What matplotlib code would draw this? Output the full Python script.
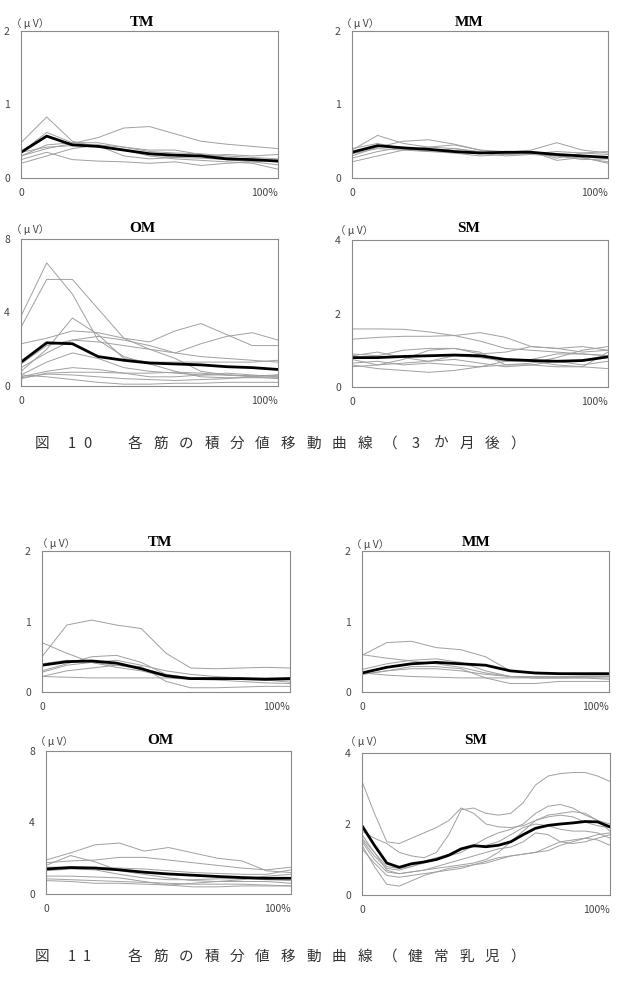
import matplotlib.pyplot as plt

plt.rcParams['font.family'] = ['Noto Sans CJK JP', 'DejaVu Sans']

W, H = 618, 993

pct = [0, 10, 20, 30, 40, 50, 60, 70, 80, 90, 100]
pct5 = [0, 5, 10, 15, 20, 25, 30, 35, 40, 45, 50, 55, 60, 65, 70, 75, 80, 85, 90, 95, 100]

# ---- 図10 (3か月後) ----
tm3_lines = [
    [0.48, 0.83, 0.50, 0.42, 0.38, 0.32, 0.28, 0.27, 0.25, 0.22, 0.18],
    [0.30, 0.40, 0.47, 0.55, 0.68, 0.70, 0.60, 0.50, 0.46, 0.43, 0.40],
    [0.35, 0.62, 0.48, 0.48, 0.42, 0.36, 0.34, 0.33, 0.30, 0.28, 0.26],
    [0.20, 0.30, 0.40, 0.45, 0.42, 0.38, 0.38, 0.32, 0.28, 0.25, 0.22],
    [0.25, 0.35, 0.25, 0.23, 0.22, 0.20, 0.22, 0.17, 0.20, 0.22, 0.25],
    [0.35, 0.42, 0.44, 0.45, 0.38, 0.30, 0.26, 0.24, 0.22, 0.20, 0.12],
    [0.30, 0.45, 0.48, 0.44, 0.30, 0.26, 0.28, 0.30, 0.32, 0.30, 0.32],
]
tm3_mean = [0.35, 0.57, 0.45, 0.43, 0.38, 0.33, 0.31, 0.30, 0.26, 0.25, 0.23]

mm3_lines = [
    [0.38, 0.58, 0.47, 0.42, 0.40, 0.35, 0.35, 0.38, 0.48, 0.38, 0.34],
    [0.30, 0.42, 0.50, 0.52, 0.46, 0.38, 0.33, 0.36, 0.27, 0.34, 0.36],
    [0.22, 0.30, 0.38, 0.42, 0.45, 0.38, 0.36, 0.34, 0.30, 0.27, 0.22],
    [0.40, 0.47, 0.40, 0.36, 0.34, 0.30, 0.32, 0.36, 0.24, 0.28, 0.20],
    [0.33, 0.40, 0.38, 0.36, 0.40, 0.36, 0.32, 0.33, 0.36, 0.34, 0.32],
    [0.27, 0.36, 0.42, 0.38, 0.34, 0.34, 0.30, 0.32, 0.30, 0.25, 0.26],
]
mm3_mean = [0.35, 0.44, 0.41, 0.39, 0.36, 0.34, 0.35, 0.35, 0.32, 0.30, 0.28]

om3_lines = [
    [3.8, 6.7, 5.0, 2.5, 1.6, 1.2, 0.8, 0.5, 0.45, 0.45, 0.45],
    [3.2, 5.8, 5.8, 4.2, 2.6, 2.0, 1.5, 0.8, 0.6, 0.55, 0.6],
    [0.8, 2.0, 3.7, 2.8, 1.5, 1.3, 1.3, 1.3, 1.3, 1.3, 1.4],
    [2.3, 2.6, 3.0, 2.9, 2.6, 2.4, 3.0, 3.4, 2.8, 2.2, 2.2],
    [1.0, 1.8, 2.5, 2.7, 2.5, 2.2, 1.8, 2.3, 2.7, 2.9, 2.5],
    [1.2, 2.2, 2.5, 2.4, 2.2, 2.0, 1.8, 1.6, 1.5, 1.4, 1.3],
    [0.6, 1.3, 1.8, 1.5, 1.0, 0.8, 0.7, 0.6, 0.6, 0.55, 0.55],
    [0.5, 0.8, 1.0, 0.9, 0.7, 0.5, 0.5, 0.6, 0.7, 0.6, 0.5],
    [0.4, 0.7, 0.75, 0.75, 0.7, 0.7, 0.75, 0.7, 0.6, 0.5, 0.4],
    [0.6, 0.5, 0.35, 0.2, 0.1, 0.1, 0.15, 0.15, 0.2, 0.2, 0.2],
    [0.45, 0.65, 0.6, 0.5, 0.4, 0.35, 0.3, 0.35, 0.4, 0.5, 0.6],
]
om3_mean = [1.3, 2.35, 2.3, 1.6, 1.4, 1.25, 1.2, 1.15, 1.05, 1.0, 0.9]

sm3_lines = [
    [1.58, 1.58, 1.57, 1.50, 1.40, 1.25, 1.05, 1.00, 0.95, 0.90, 0.85],
    [1.30, 1.35, 1.38, 1.38, 1.40, 1.48, 1.35, 1.10, 1.05, 0.95, 1.00],
    [0.90, 0.85, 1.00, 1.05, 1.05, 0.90, 0.95, 1.10, 1.05, 1.10, 1.00],
    [0.75, 0.60, 0.75, 1.00, 1.05, 0.95, 0.60, 0.65, 0.80, 1.00, 1.10],
    [0.60, 0.50, 0.45, 0.40, 0.45, 0.55, 0.60, 0.60, 0.55, 0.55, 0.50],
    [0.55, 0.60, 0.65, 0.70, 0.75, 0.65, 0.55, 0.60, 0.70, 0.60, 0.70],
    [0.85, 0.95, 0.80, 0.70, 0.85, 0.80, 0.70, 0.75, 0.90, 0.90, 0.85],
    [0.65, 0.70, 0.60, 0.65, 0.60, 0.55, 0.70, 0.70, 0.60, 0.55, 0.95],
]
sm3_mean = [0.80, 0.80, 0.83, 0.85, 0.87, 0.85, 0.75, 0.72, 0.70, 0.72, 0.82]

# ---- 図11 (健常乳児) ----
tmh_lines = [
    [0.50, 0.95, 1.02, 0.95, 0.90, 0.55, 0.34, 0.33, 0.34, 0.35, 0.34],
    [0.70, 0.55, 0.42, 0.35, 0.30, 0.22, 0.20, 0.20, 0.18, 0.17, 0.17],
    [0.30, 0.40, 0.50, 0.52, 0.42, 0.25, 0.20, 0.20, 0.20, 0.20, 0.20],
    [0.28, 0.38, 0.42, 0.45, 0.38, 0.30, 0.25, 0.22, 0.20, 0.17, 0.14],
    [0.22, 0.30, 0.34, 0.38, 0.36, 0.15, 0.06, 0.06, 0.07, 0.08, 0.08],
    [0.22, 0.21, 0.20, 0.20, 0.20, 0.20, 0.18, 0.17, 0.15, 0.13, 0.12],
    [0.40, 0.45, 0.42, 0.38, 0.33, 0.25, 0.18, 0.18, 0.18, 0.19, 0.20],
]
tmh_mean = [0.38, 0.43, 0.44, 0.41, 0.33, 0.23, 0.19, 0.19, 0.19, 0.18, 0.19]

mmh_lines = [
    [0.52, 0.70, 0.72, 0.63, 0.60, 0.50, 0.30, 0.26, 0.25, 0.24, 0.24],
    [0.53, 0.48, 0.44, 0.40, 0.35, 0.27, 0.22, 0.20, 0.20, 0.20, 0.20],
    [0.32, 0.40, 0.45, 0.47, 0.42, 0.30, 0.22, 0.20, 0.20, 0.20, 0.18],
    [0.25, 0.30, 0.36, 0.36, 0.33, 0.20, 0.12, 0.12, 0.15, 0.15, 0.15],
    [0.25, 0.30, 0.33, 0.33, 0.30, 0.25, 0.22, 0.22, 0.22, 0.22, 0.22],
    [0.27, 0.24, 0.22, 0.21, 0.20, 0.20, 0.20, 0.20, 0.20, 0.21, 0.22],
]
mmh_mean = [0.27, 0.35, 0.40, 0.42, 0.40, 0.38, 0.30, 0.27, 0.26, 0.26, 0.26]

omh_lines = [
    [1.9, 2.3, 2.75, 2.85, 2.4, 2.6, 2.3, 2.0, 1.85, 1.3, 1.2],
    [1.75, 1.85, 1.9, 2.05, 2.05, 1.9, 1.75, 1.6, 1.45, 1.35, 1.5],
    [1.6, 2.15, 1.8, 1.3, 1.1, 0.9, 0.75, 0.7, 0.7, 0.7, 0.6],
    [1.5, 1.5, 1.5, 1.45, 1.4, 1.3, 1.2, 1.15, 1.1, 1.1, 1.35],
    [1.0, 1.0, 0.95, 0.9, 0.7, 0.5, 0.4, 0.4, 0.45, 0.45, 0.45],
    [0.85, 0.8, 0.75, 0.7, 0.65, 0.6, 0.55, 0.55, 0.55, 0.5, 0.45],
    [0.75, 0.7, 0.6, 0.6, 0.55, 0.5, 0.6, 0.7, 0.8, 1.0, 1.1],
    [1.3, 1.4, 1.35, 1.1, 0.9, 0.8, 0.8, 0.85, 0.85, 0.8, 0.75],
]
omh_mean = [1.4, 1.48, 1.45, 1.35, 1.22, 1.12, 1.05, 0.98, 0.92, 0.88, 0.88]

smh_lines = [
    [3.2, 2.3, 1.5, 1.45, 1.6, 1.75, 1.9, 2.1, 2.45, 2.3, 2.0, 1.92, 1.9, 1.95, 2.1, 2.2, 2.25, 2.2, 2.05, 1.95, 1.9],
    [1.8, 1.6, 1.45, 1.2, 1.1, 1.05, 1.2, 1.7, 2.4, 2.45, 2.3, 2.25, 2.3, 2.6, 3.1, 3.35, 3.42, 3.45, 3.45, 3.35, 3.2],
    [1.6, 1.2, 0.8, 0.75, 0.8, 0.9, 1.0, 1.1, 1.2, 1.4, 1.6, 1.75, 1.85, 2.0, 2.3, 2.5, 2.55, 2.45, 2.25, 2.1, 2.0],
    [1.5, 1.0, 0.65, 0.6, 0.65, 0.7, 0.75, 0.8, 0.85, 0.9, 1.0, 1.2, 1.5, 1.8, 2.1, 2.25, 2.3, 2.35, 2.3, 2.1, 1.8],
    [1.4, 0.8, 0.3, 0.25, 0.4, 0.55, 0.65, 0.75, 0.8, 0.85, 0.9, 1.0, 1.1, 1.15, 1.2, 1.25, 1.4, 1.5, 1.6, 1.7, 1.75],
    [1.3, 0.9, 0.55, 0.5, 0.55, 0.6, 0.65, 0.7, 0.75, 0.85, 0.95, 1.05, 1.1, 1.15, 1.2, 1.35, 1.5, 1.55, 1.6, 1.55, 1.4],
    [1.7, 1.2, 0.7, 0.6, 0.65, 0.7, 0.8, 0.9, 1.0, 1.1, 1.2, 1.3, 1.35, 1.5, 1.75, 1.7, 1.5, 1.45, 1.5, 1.6, 1.7],
    [1.55, 1.1, 0.75, 0.7, 0.8, 0.95, 1.05, 1.15, 1.3, 1.35, 1.4, 1.5, 1.7, 1.9, 2.0, 1.95, 1.85, 1.8, 1.8, 1.75, 1.6],
]
smh_mean = [1.95, 1.4, 0.9, 0.78, 0.88, 0.93, 1.0, 1.12, 1.3, 1.39, 1.36, 1.4, 1.5, 1.7, 1.88, 1.96, 2.0, 2.03, 2.07, 2.06, 1.92]

caption1 = ['図', '1', '0', '各', '筋', 'の', '積', '分', '値', '移', '動', '曲', '線', '（', '3', 'か', '月', '後', '）']
caption2 = ['図', '1', '1', '各', '筋', 'の', '積', '分', '値', '移', '動', '曲', '線', '（', '健', '常', '乳', '児', '）']


def box(l, t, r, b):
    return [l / W, 1 - b / H, (r - l) / W, (b - t) / H]


def px(x, y):
    return x / W, 1 - y / H


fig = plt.figure(figsize=(W / 100, H / 100), dpi=100)

# rect, title, ymax, yticks, x, lines, mean, title pos, unit pos
panels = [
    (box(21, 31, 278, 178), 'TM', 2, [0, 1, 2], pct, tm3_lines, tm3_mean, (142, 22), (11, 24)),
    (box(352, 31, 608, 178), 'MM', 2, [0, 1, 2], pct, mm3_lines, mm3_mean, (469, 22), (341, 24)),
    (box(21, 239, 278, 386), 'OM', 8, [0, 4, 8], pct, om3_lines, om3_mean, (142, 228), (11, 230)),
    (box(352, 240, 608, 387), 'SM', 4, [0, 2, 4], pct, sm3_lines, sm3_mean, (469, 228), (335, 231)),
    (box(42, 551, 290, 692), 'TM', 2, [0, 1, 2], pct, tmh_lines, tmh_mean, (160, 542), (37, 544)),
    (box(362, 551, 609, 692), 'MM', 2, [0, 1, 2], pct, mmh_lines, mmh_mean, (476, 542), (351, 545)),
    (box(46, 751, 291, 894), 'OM', 8, [0, 4, 8], pct, omh_lines, omh_mean, (160, 741), (35, 742)),
    (box(362, 753, 610, 895), 'SM', 4, [0, 2, 4], pct5, smh_lines, smh_mean, (476, 741), (345, 742)),
]

for rect, name, ymax, yt, xs, lines, mean, tpos, upos in panels:
    ax = fig.add_axes(rect)
    for ln in lines:
        ax.plot(xs, ln, color='#a0a0a0', lw=0.7)
    ax.plot(xs, mean, color='black', lw=2.0)
    ax.set_xlim(0, 100)
    ax.set_ylim(0, ymax)
    ax.set_yticks(yt)
    ax.set_xticks([0, 100], ['0', '100%'])
    ax.get_xticklabels()[1].set_ha('right')
    ax.tick_params(length=0, colors='#444444', labelsize=7.5)
    ax.tick_params(axis='y', pad=8)
    ax.tick_params(axis='x', pad=7)
    for s in ax.spines.values():
        s.set_color('#8a8a8a')
        s.set_linewidth(0.8)
    fig.text(*px(*tpos), name, ha='center', va='center', family='Liberation Serif',
             weight='bold', fontsize=11)
    fig.text(*px(*upos), '（ μ V）', ha='left', va='center', fontsize=7.5, color='#444444')

# captions, one glyph at a time (wide letter spacing)
cap_x = [42, 72, 87] + [135 + 25.5 * i for i in range(16)]
for chars, cy in ((caption1, 444), (caption2, 957)):
    for ch, cx in zip(chars, cap_x):
        fig.text(*px(cx, cy), ch, ha='center', va='center', fontsize=10.5, color='#333333')

fig.savefig('out.png', dpi=100)
